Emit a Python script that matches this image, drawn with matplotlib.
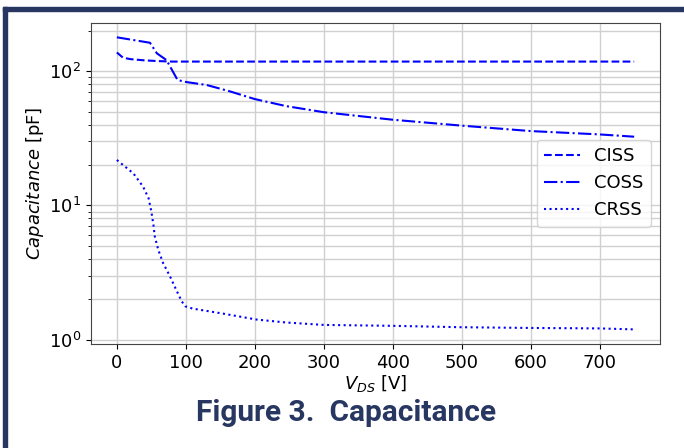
import matplotlib
matplotlib.use("Agg")
import matplotlib.pyplot as plt
from matplotlib.patches import Rectangle

v_ciss = [0, 9, 20, 40, 60, 80, 100, 150, 200, 300, 400, 500, 600, 700, 750]
c_ciss = [138, 126, 123, 120.5, 119, 118, 118, 118, 118, 118, 118, 118, 118, 118, 118]

v_coss = [0, 48, 58, 72, 88, 101, 130, 163, 200, 245, 300, 400, 500, 600, 700, 750]
c_coss = [179, 163, 136, 121, 86, 83, 79, 71, 62, 55, 49.5, 43.5, 39.3, 35.8, 33.8, 32.5]

v_crss = [0, 9, 24, 38, 46, 50, 53, 55, 60, 67, 77, 87, 94, 99, 110, 154, 202, 245,
          300, 400, 500, 600, 700, 750]
c_crss = [21.8, 20.0, 17.3, 13.8, 11.3, 9.0, 7.16, 5.86, 4.67, 3.72, 2.96, 2.29, 1.93,
          1.77, 1.70, 1.56, 1.41, 1.34, 1.285, 1.265, 1.235, 1.22, 1.21, 1.19]

labels = ["CISS", "COSS", "CRSS"]
title = "Figure 3.  Capacitance"
navy = "#283761"

fig = plt.figure(figsize=(6.84, 4.48), dpi=100)
ax = fig.add_axes([91/684, 1-344/448, (660-91)/684, (344-22.7)/448])

ax.plot(v_ciss, c_ciss, "b--", lw=1.5, label=labels[0])
ax.plot(v_coss, c_coss, "b-.", lw=1.5, label=labels[1])
ax.plot(v_crss, c_crss, "b:", lw=1.5, label=labels[2])
ax.set_yscale("log")
ax.grid(True, which="both", color="#d0d0d0", lw=1.0)
ax.set_axisbelow(True)
for s in ax.spines.values():
    s.set_color("#444444")
ax.tick_params(labelsize=13)
ax.set_xticks([0, 100, 200, 300, 400, 500, 600, 700])
ax.set_xlabel("$V_{DS}$ [V]", fontsize=13, labelpad=1)
ax.set_ylabel("$Capacitance$ [pF]", fontsize=13, labelpad=2)
ax.legend(loc="center right", fontsize=13)

fig.patches.append(Rectangle((3.3/684, 0), 4/684, 1 - 7/448, transform=fig.transFigure,
                             color=navy, zorder=5))
fig.patches.append(Rectangle((3.3/684, 1 - 11.5/448), 1, 4.5/448, transform=fig.transFigure,
                             color=navy, zorder=5))

fig.text(0.506, 1 - 413/448, title, ha="center", va="center", fontsize=21.5,
         fontweight="bold", color=navy, family=["Roboto", "DejaVu Sans"])

fig.savefig("out.png", dpi=100)
